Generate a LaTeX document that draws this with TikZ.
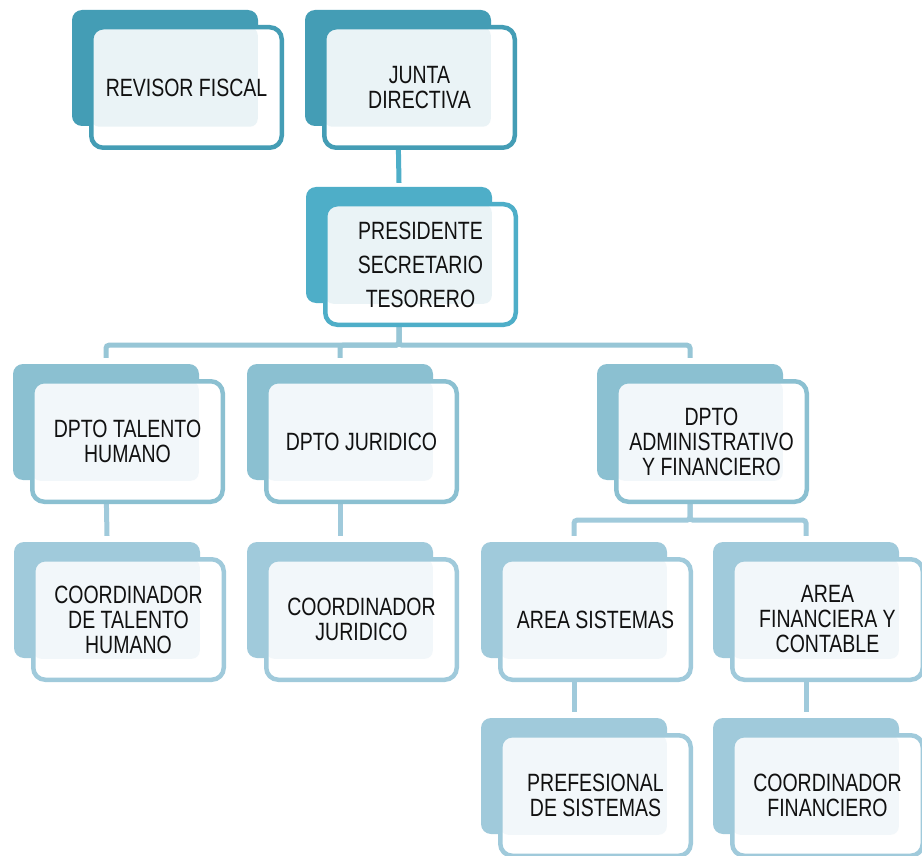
\documentclass[tikz,border=0pt]{standalone}
\usepackage{fontspec}
\setmainfont{Liberation Sans}[FakeStretch=0.78]
\usetikzlibrary{backgrounds}
\pgfdeclarelayer{paper}
\pgfsetlayers{paper,background,main}
\definecolor{cA}{HTML}{449DB5}
\definecolor{cB}{HTML}{4EAEC8}
\definecolor{cC}{HTML}{8BC0D1}
\definecolor{cD}{HTML}{A0CADB}
\definecolor{lA}{HTML}{EAF3F6}
\definecolor{lB}{HTML}{F2F7FA}
\definecolor{tcol}{HTML}{111111}
\newcommand\orgbox[6]{%
  \node[backbox=#4] (#1-b) at (#2+93,#3+58) {};
  \node[frontbox={#4}{#5}] (#1) at (#2+114.5,#3+77.5) {#6};
}
\begin{document}
\begin{tikzpicture}[x=1pt,y=-1pt,
  backbox/.style={fill=#1, rounded corners=10pt, minimum width=186pt, minimum height=116pt, inner sep=0pt},
  frontbox/.style 2 args={draw=#1, line width=4.5pt, fill=white, rounded corners=12pt,
    minimum width=190.5pt, minimum height=120.5pt, inner sep=0pt, align=center,
    text=tcol, font=\fontsize{25}{25}\selectfont,
    path picture={\fill[#2, rounded corners=8pt] (path picture bounding box.north west) rectangle ([xshift=-24pt,yshift=21pt]path picture bounding box.south east);}},
  conn/.style={draw=#1, line width=5pt, rounded corners=3pt},
]
\clip (0,0) rectangle (922,856);
\begin{pgfonlayer}{paper}
\fill[white] (0,0) rectangle (922,856);
\end{pgfonlayer}
% row 1
\orgbox{rev}{72}{10}{cA}{lA}{REVISOR FISCAL}
\orgbox{junta}{305}{10}{cA}{lA}{JUNTA\\DIRECTIVA}
% row 2
\orgbox{pres}{306}{187}{cB}{lA}{PRESIDENTE\\[9pt]SECRETARIO\\[9pt]TESORERO}
% row 3
\orgbox{tal}{13}{364}{cC}{lB}{DPTO TALENTO\\HUMANO}
\orgbox{jur}{247}{364}{cC}{lB}{DPTO JURIDICO}
\orgbox{adm}{597}{364}{cC}{lB}{DPTO\\ADMINISTRATIVO\\Y FINANCIERO}
% row 4
\orgbox{cth}{14}{542}{cD}{lB}{COORDINADOR\\DE TALENTO\\HUMANO}
\orgbox{cju}{247}{542}{cD}{lB}{COORDINADOR\\JURIDICO}
\orgbox{asi}{481}{542}{cD}{lB}{AREA SISTEMAS}
\orgbox{afc}{713}{542}{cD}{lB}{AREA\\FINANCIERA Y\\CONTABLE}
% row 5
\orgbox{pfs}{481}{718}{cD}{lB}{PREFESIONAL\\DE SISTEMAS}
\orgbox{cfi}{713}{718}{cD}{lB}{COORDINADOR\\FINANCIERO}
% connectors
\begin{scope}[on background layer]
\draw[conn=cB] (junta-b.south) -- ([yshift=4pt]pres-b.north);
\draw[conn=cC!90] (pres-b.south) -- ++(0,42) -| ([yshift=6pt]tal-b.north);
\draw[conn=cC!90] (pres-b.south) -- ++(0,42) -| ([yshift=6pt]jur-b.north);
\draw[conn=cC!90] (pres-b.south) -- ++(0,42) -| ([yshift=6pt]adm-b.north);
\draw[conn=cD] (tal-b.south) -- ([yshift=6pt]cth-b.north);
\draw[conn=cD] (jur-b.south) -- ([yshift=6pt]cju-b.north);
\draw[conn=cD] (adm-b.south) -- ++(0,40) -| ([yshift=6pt]asi-b.north);
\draw[conn=cD] (adm-b.south) -- ++(0,40) -| ([yshift=6pt]afc-b.north);
\draw[conn=cD] (asi-b.south) -- ([yshift=6pt]pfs-b.north);
\draw[conn=cD] (afc-b.south) -- ([yshift=6pt]cfi-b.north);
\end{scope}
\end{tikzpicture}
\end{document}
